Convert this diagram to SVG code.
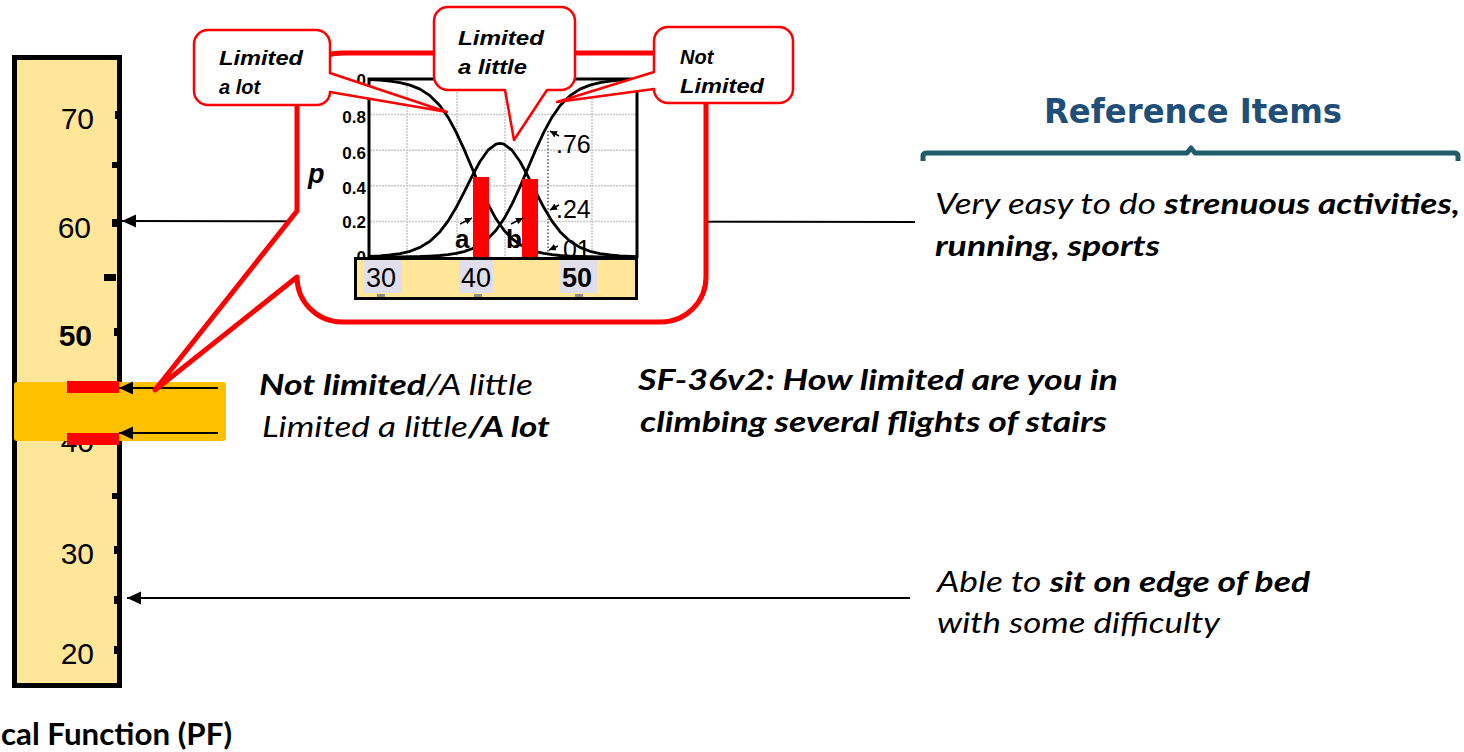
<svg xmlns="http://www.w3.org/2000/svg" width="1464" height="752" viewBox="0 0 1464 752">
<defs>
<marker id="ah" markerUnits="userSpaceOnUse" markerWidth="15" markerHeight="14" refX="14" refY="6.5" orient="auto"><path d="M0,0 L14,6.5 L0,13 Z" fill="#000"/></marker>
<marker id="sm" markerUnits="userSpaceOnUse" markerWidth="8" markerHeight="8" refX="7" refY="3.5" orient="auto"><path d="M0,0 L7,3.5 L0,7 Z" fill="#000"/></marker>
</defs>
<style>
.cal{font-family:Lato,"Open Sans","Liberation Sans",sans-serif;font-size:28px;font-style:italic;fill:#000;}
.ar{font-family:"Liberation Sans",Arial,sans-serif;fill:#000;}
.conn{stroke:#000;stroke-width:2;fill:none;marker-end:url(#ah);}
.sma{stroke:#000;stroke-width:1.5;fill:none;marker-end:url(#sm);}
.co{fill:#fff;stroke:#f00;stroke-width:2.5;stroke-linejoin:round;}
.big{fill:#fff;stroke:#f00;stroke-width:5;stroke-linejoin:round;}
.curve{fill:none;stroke:#000;stroke-width:2.8;stroke-linejoin:round;}
.grid{stroke:#c8c8c8;stroke-width:1.5;stroke-dasharray:2 1;fill:none;}
.tick{fill:#000;}
.lbl{fill:#E1DEEB;}
.gm{fill:#8c8c8c;}
.rb{fill:#f00;}
.cot{font-family:"Liberation Sans",Arial,sans-serif;font-size:20px;font-weight:bold;font-style:italic;fill:#000;}
</style>

<g id="ruler">
<rect x="14.5" y="57.5" width="105" height="628" fill="#FFE699" stroke="#000" stroke-width="5"/>
<rect class="tick" x="115" y="111" width="4" height="8"/>
<rect class="tick" x="112" y="162" width="7" height="6"/>
<rect class="tick" x="112" y="219" width="6" height="8"/>
<rect class="tick" x="104" y="274" width="12" height="7"/>
<rect class="tick" x="114" y="328" width="5" height="8"/>
<rect class="tick" x="112" y="493" width="7" height="6"/>
<rect class="tick" x="114" y="546" width="5" height="8"/>
<rect class="tick" x="114" y="596" width="5" height="8"/>
<rect class="tick" x="114" y="646" width="5" height="8"/>
<g class="ar" font-size="30" text-anchor="end">
<text x="94" y="129">70</text>
<text x="91" y="238">60</text>
<text x="92" y="346" font-weight="bold">50</text>
<text x="94" y="452">40</text>
<text x="94" y="564">30</text>
<text x="94" y="664">20</text>
</g>
</g>

<g id="highlight">
<rect x="14" y="382" width="212" height="59" rx="3" fill="#FFC000"/>
<rect class="rb" x="67" y="381" width="52" height="12"/>
<rect class="rb" x="67" y="433" width="52" height="12"/>
</g>

<g id="connectors">
<line class="conn" x1="915" y1="222" x2="122" y2="221"/>
<line class="conn" x1="910" y1="598" x2="127" y2="598"/>
<line class="conn" x1="218" y1="388" x2="119" y2="388"/>
<line class="conn" x1="218" y1="433" x2="119" y2="433"/>
</g>

<g id="irt-callout">
<path class="big" d="M342,53 H661 A45 45 0 0 1 706 98 V277 A45 45 0 0 1 661 322 H342 A45 45 0 0 1 297 277 L155 390 L297 211 V98 A45 45 0 0 1 342 53 Z"/>
<text class="ar" x="308" y="183" font-size="27" font-weight="bold" font-style="italic">p</text>
<g id="chart">
<rect x="369" y="79" width="268" height="179" fill="#fff"/>
<path class="grid" d="M370,221.4 H636 M370,185.8 H636 M370,150.2 H636 M370,114.6 H636 M407,80 V256 M457,80 V256 M505,80 V256 M592,80 V256"/>
<line x1="548" y1="131" x2="548" y2="257" stroke="#000" stroke-width="1" stroke-dasharray="1.5 2"/>
<polyline class="curve" points="369,79.7 380,80.2 390,81.1 400,82.6 410,85.1 420,89.1 430,95.7 440,105.8 448,117.2 456,131.8 464,149.1 472,168 480,186.9 488,204.2 496,218.8 504,230.2 512,238.6 520,244.6 528,248.7 536,251.6 544,253.4 552,254.7 560,255.5 570,256.1 580,256.5 590,256.7 600,256.8 620,256.95 637,257"/>
<polyline class="curve" points="369,257 400,256.8 420,256.5 430,256.1 440,255.5 448,254.7 456,253.4 464,251.6 472,248.7 480,244.6 488,238.6 496,230.2 504,218.8 512,204.2 520,186.9 528,168 536,149.1 544,131.8 552,117.2 560,105.8 570,95.7 580,89.1 590,85.1 600,82.6 610,81.1 620,80.2 637,79.5"/>
<polyline class="curve" points="369,256.4 380,255.8 390,255 400,253.6 410,251.3 420,247.4 430,241.2 440,231.7 448,221.1 456,207.8 464,192.4 472,176.3 480,161.5 488,150.2 496,144.1 500,143.3 504,144.1 512,150.2 520,161.5 528,176.3 536,192.4 544,207.8 552,221.1 560,231.7 570,241.2 580,247.4 590,251.3 600,253.6 610,255 620,255.8 631,256.4 637,256.6"/>
<rect class="rb" x="473" y="177" width="16" height="81"/>
<rect class="rb" x="522" y="179" width="16" height="79"/>
<g class="ar" font-weight="bold" font-size="26">
<text x="455" y="248">a</text>
<text x="506" y="248">b</text>
</g>
<line class="sma" x1="460" y1="224" x2="472" y2="218"/>
<line class="sma" x1="511" y1="224" x2="523" y2="218"/>
<line class="sma" x1="559" y1="136" x2="550" y2="131"/>
<line class="sma" x1="559" y1="205" x2="550" y2="210"/>
<line class="sma" x1="558" y1="246" x2="549" y2="250"/>
<g class="ar" font-size="25">
<text x="556" y="153">.76</text>
<text x="556" y="218">.24</text>
<text x="556" y="258">.01</text>
</g>
<g class="ar" font-size="17" font-weight="bold" text-anchor="end">
<text x="366" y="86">0</text>
<text x="366" y="123">0.8</text>
<text x="366" y="159">0.6</text>
<text x="366" y="194">0.4</text>
<text x="366" y="228">0.2</text>
<text x="366" y="263">0</text>
</g>
<path d="M369,258 V79 H637 V258" fill="none" stroke="#000" stroke-width="3"/>
<rect x="355.5" y="258.5" width="281" height="40" fill="#FFE699" stroke="#000" stroke-width="3"/>
<rect class="lbl" x="364" y="260" width="38" height="33"/>
<rect class="lbl" x="459" y="260" width="35" height="33"/>
<rect class="lbl" x="560" y="260" width="37" height="33"/>
<rect class="gm" x="377" y="294" width="8" height="3"/>
<rect class="gm" x="474" y="294" width="8" height="3"/>
<rect class="gm" x="575" y="294" width="8" height="3"/>
<g class="ar" font-size="27" text-anchor="middle">
<text x="381" y="287">30</text>
<text x="476" y="287">40</text>
<text x="577" y="287" font-weight="bold">50</text>
</g>
</g>
</g>

<g id="callout-lot">
<path class="co" d="M208,30 H316 A14 14 0 0 1 330 44 V73 L447 112 L330 92 A13 13 0 0 1 317 105 H208 A14 14 0 0 1 194 91 V44 A14 14 0 0 1 208 30 Z"/>
<text class="cot" x="219" y="65" textLength="84" lengthAdjust="spacingAndGlyphs">Limited</text>
<text class="cot" x="219" y="94">a lot</text>
</g>
<g id="callout-little">
<path class="co" d="M448,7 H561 A14 14 0 0 1 575 21 V76 A14 14 0 0 1 561 90 H547 L514 140 L505 90 H448 A14 14 0 0 1 434 76 V21 A14 14 0 0 1 448 7 Z"/>
<text class="cot" x="458" y="45" textLength="86" lengthAdjust="spacingAndGlyphs">Limited</text>
<text class="cot" x="458" y="74" textLength="69" lengthAdjust="spacingAndGlyphs">a little</text>
</g>
<g id="callout-not">
<path class="co" d="M668,27 H779 A14 14 0 0 1 793 41 V89 A14 14 0 0 1 779 103 H668 A14 14 0 0 1 654 89 L557 102 L654 72 V41 A14 14 0 0 1 668 27 Z"/>
<text class="cot" x="680" y="64">Not</text>
<text class="cot" x="680" y="93" textLength="84" lengthAdjust="spacingAndGlyphs">Limited</text>
</g>

<g id="responses">
<text class="cal" x="259" y="395" textLength="274" lengthAdjust="spacingAndGlyphs"><tspan font-weight="bold">Not limited</tspan>/A little</text>
<text class="cal" x="262" y="437" textLength="288" lengthAdjust="spacingAndGlyphs">Limited a little<tspan font-weight="bold">/A lot</tspan></text>
</g>

<g id="question">
<text class="cal" x="638" y="390" font-weight="bold" textLength="480" lengthAdjust="spacingAndGlyphs">SF-36v2:  How limited are you in</text>
<text class="cal" x="640" y="432" font-weight="bold" textLength="467" lengthAdjust="spacingAndGlyphs">climbing several flights of stairs</text>
</g>

<g id="reference-items">
<text x="1044" y="123" font-family="'DejaVu Sans',Verdana,sans-serif" font-size="33" font-weight="bold" fill="#1F4E79" textLength="298" lengthAdjust="spacingAndGlyphs">Reference Items</text>
<path d="M923,161 V156 Q923,153 927,153 H1187 L1191,148 L1195,153 H1454 Q1458,153 1458,156 V161" fill="none" stroke="#215C6B" stroke-width="5" stroke-linejoin="round"/>
</g>

<g id="item-high">
<text class="cal" x="935" y="214" textLength="525" lengthAdjust="spacingAndGlyphs">Very easy to do <tspan font-weight="bold">strenuous activities,</tspan></text>
<text class="cal" x="935" y="256" font-weight="bold" textLength="225" lengthAdjust="spacingAndGlyphs">running, sports</text>
</g>

<g id="item-low">
<text class="cal" x="937" y="592" textLength="373" lengthAdjust="spacingAndGlyphs">Able to <tspan font-weight="bold">sit on edge of bed</tspan></text>
<text class="cal" x="937" y="633" textLength="283" lengthAdjust="spacingAndGlyphs">with some difficulty</text>
</g>

<g id="axis-title">
<text x="1" y="745" font-family="Lato,'Open Sans','Liberation Sans',sans-serif" font-size="30" font-weight="bold" textLength="231" lengthAdjust="spacingAndGlyphs">cal Function (PF)</text>
</g>
</svg>
